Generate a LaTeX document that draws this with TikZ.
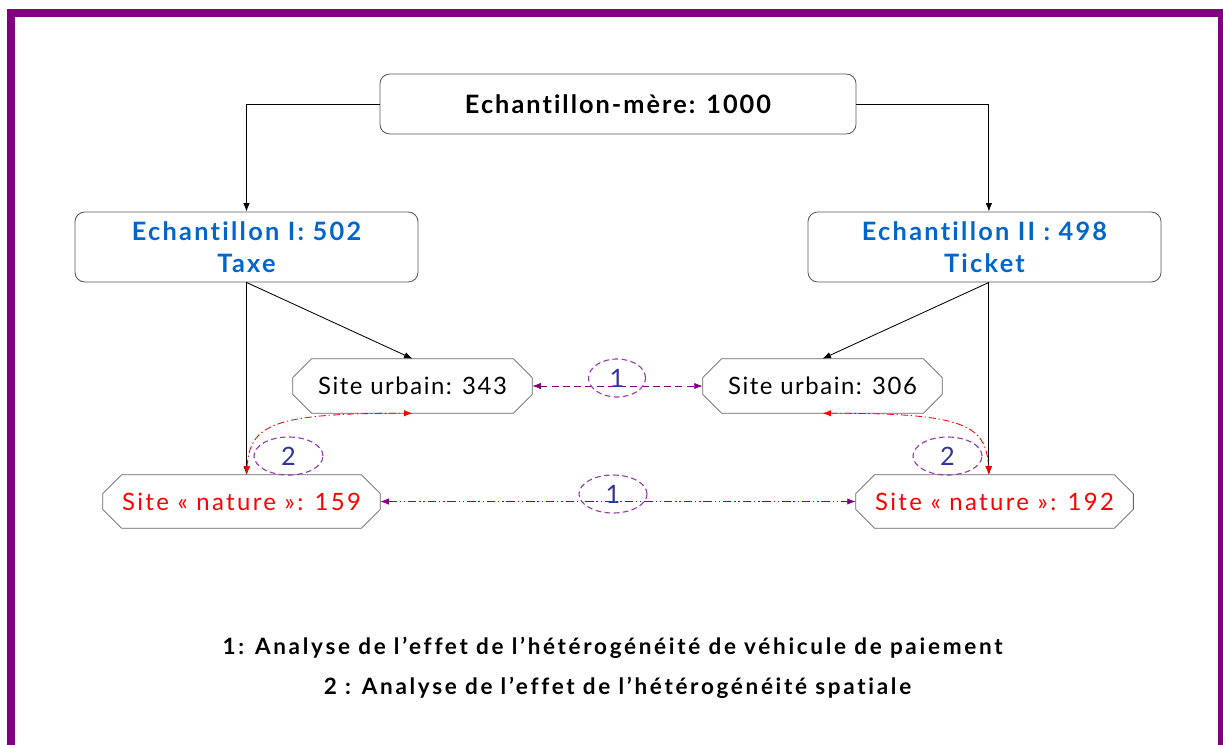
\documentclass[tikz,border=0pt]{standalone}
\usepackage{fontspec}
\setmainfont[Ligatures={NoCommon}]{Lato}
\usepackage{tikz}
\usetikzlibrary{shapes.geometric,arrows.meta}
\definecolor{cadre}{RGB}{128,0,128}
\definecolor{bleu}{RGB}{0,102,204}
\definecolor{violet}{RGB}{150,60,170}
\definecolor{chiffre}{RGB}{51,51,160}
% contour a coins coupes autour d'un noeud
\newcommand{\octo}[1]{\draw[black!60, line width=0.6pt] ([xshift=13.5pt]#1.north west) -- ([xshift=-13.5pt]#1.north east) -- ([yshift=-13.5pt]#1.north east) -- ([yshift=13.5pt]#1.south east) -- ([xshift=-13.5pt]#1.south east) -- ([xshift=13.5pt]#1.south west) -- ([yshift=13.5pt]#1.south west) -- ([yshift=-13.5pt]#1.north west) -- cycle;}
\tikzset{
  >={Latex[length=6pt,width=4.5pt]},
  boite/.style={draw=black!65, rounded corners=7pt, line width=0.6pt, align=center, inner sep=0pt},
  site/.style={inner sep=0pt, font=\fontsize{17}{18}\selectfont\addfontfeatures{LetterSpace=6.5}},
  nature/.style={site, text=red, font=\fontsize{17}{18}\selectfont\addfontfeatures{LetterSpace=10}},
  bulle/.style={draw=violet, dash pattern=on 4pt off 2.5pt, ellipse, line width=0.8pt, inner sep=0pt, minimum height=0.95cm, text=chiffre, font=\fontsize{18}{18}\selectfont},
  legende/.style={font=\bfseries\fontsize{16}{16}\selectfont\addfontfeatures{LetterSpace=12}},
  lien/.style={line width=0.6pt, ->}
}
\begin{document}
\begin{tikzpicture}[x=0.025cm, y=-0.025cm]
        \useasboundingbox (0,0) rectangle (1223,744);
        \fill[white] (0,0) rectangle (1223,744);
        \draw[cadre, line width=5.5pt] (11,760) -- (11,13) -- (1222,13) -- (1222,760);
        % boites
        \node[boite, minimum width=11.9cm, minimum height=1.5cm, font=\bfseries\fontsize{18}{18}\selectfont\addfontfeatures{LetterSpace=8}] (mere) at (618,104) {Echantillon-mère: 1000};
        \node[boite, minimum width=8.575cm, minimum height=1.75cm, text=bleu, font=\bfseries\fontsize{18}{22.5}\selectfont\addfontfeatures{LetterSpace=9}] (ech1) at (246.5,247) {Echantillon I: 502\\Taxe};
        \node[boite, minimum width=8.825cm, minimum height=1.75cm, text=bleu, font=\bfseries\fontsize{18}{22.5}\selectfont\addfontfeatures{LetterSpace=9}] (ech2) at (984.5,247) {Echantillon II : 498\\Ticket};
        % sites
        \node[site, minimum width=5.975cm, minimum height=1.35cm] (u343) at (412.5,386) {Site urbain: 343};
        \node[site, minimum width=5.975cm, minimum height=1.35cm] (u306) at (822.5,386) {Site urbain: 306};
        \node[nature, minimum width=6.925cm, minimum height=1.325cm] (n159) at (241.5,501.5) {Site « nature »: 159};
        \node[nature, minimum width=6.925cm, minimum height=1.325cm] (n192) at (994.5,501.5) {Site « nature »: 192};
        \octo{u343} \octo{u306} \octo{n159} \octo{n192}
        % fleches
        \draw[lien] (mere.west) -| (ech1.north);
        \draw[lien] (mere.east) -| ([xshift=0.11cm]ech2.north);
        \draw[lien] (ech1.south) -- (ech1.south |- n159.north);
        \draw[lien] (ech1.south) -- (u343.north);
        \draw[lien] ([xshift=0.11cm]ech2.south) -- ([xshift=0.11cm]ech2.south |- n192.north);
        \draw[lien] ([xshift=0.11cm]ech2.south) -- (u306.north);
        % comparaisons
        \draw[cadre, <->, line width=0.6pt, dash pattern=on 5pt off 3pt] (u343.east) -- (u306.west);
        \draw[cadre, <->, line width=0.6pt, dash pattern=on 6pt off 2pt on 1pt off 2pt on 1pt off 2pt] (n159.east) -- (n192.west);
        \draw[red, <->, line width=0.6pt, dash pattern=on 5pt off 2pt on 1pt off 2pt] (ech1.south |- n159.north) .. controls (250,425) and (272,413) .. (u343.south);
        \draw[red, <->, line width=0.6pt, dash pattern=on 5pt off 2pt on 1pt off 2pt] (u306.south) .. controls (965,413) and (986,425) .. ([xshift=0.11cm]ech2.south |- n192.north);
        \node[bulle, minimum width=1.425cm] (c1) at (617,378) {1};
        \node[bulle, minimum width=1.7cm] (c2) at (613,494) {1};
        \node[bulle, minimum width=1.725cm] (c3) at (288.5,456) {2};
        \node[bulle, minimum width=1.725cm] (c4) at (947.5,456) {2};
        % legende
        \node[legende] (leg1) at (612.5,648) {1: Analyse de l’effet de l’hétérogénéité de véhicule de paiement};
        \node[legende] (leg2) at (617.5,688) {2 : Analyse de l’effet de l’hétérogénéité spatiale};
\end{tikzpicture}
\end{document}
